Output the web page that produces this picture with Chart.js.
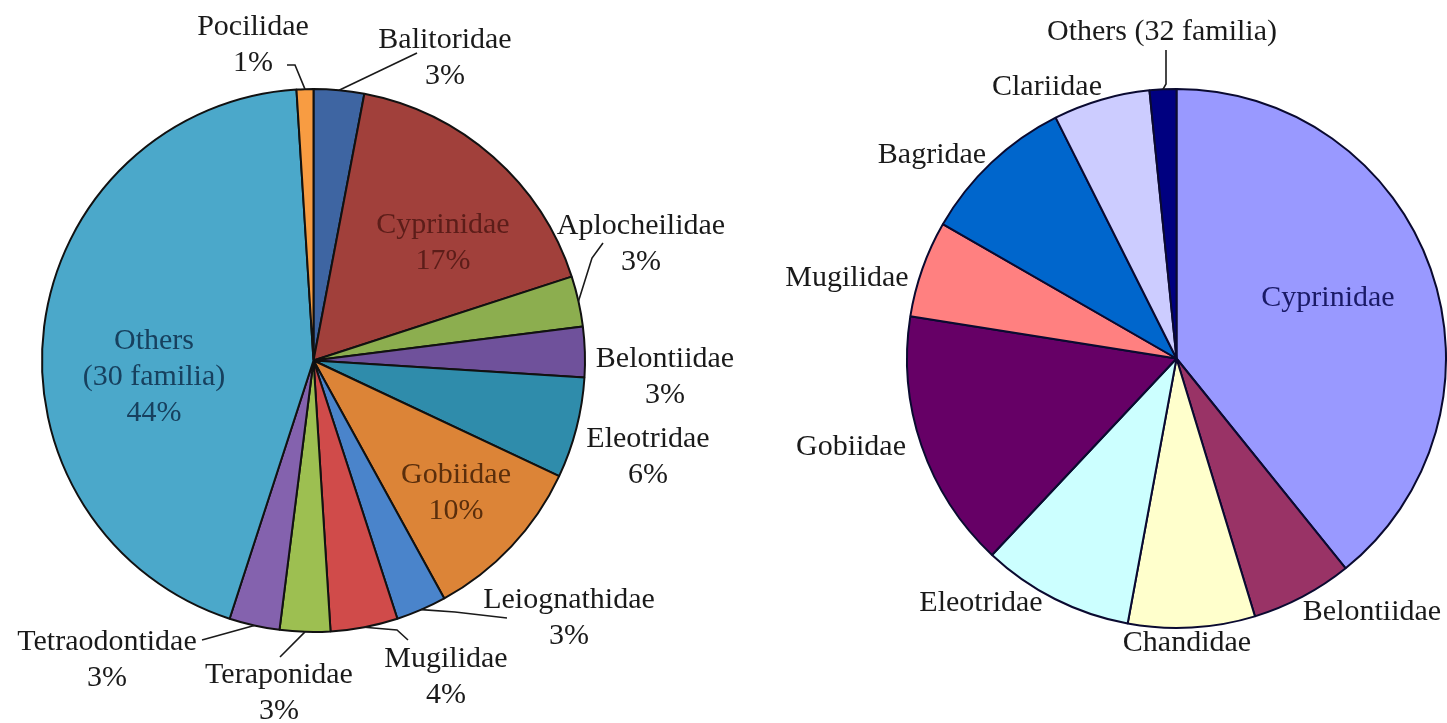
<!DOCTYPE html>
<html>
<head>
<meta charset="utf-8">
<title>Fish families</title>
<script src="https://cdn.jsdelivr.net/npm/chart.js@4"></script>
<style>
  html, body { margin: 0; padding: 0; background: #fff; }
  body { width: 1447px; height: 723px; position: relative; overflow: hidden; }
  canvas { position: absolute; top: 0; }
  #leftPie { left: 0; }
  #rightPie { left: 723px; }
</style>
</head>
<body>
<canvas id="leftPie" width="770" height="723"></canvas>
<canvas id="rightPie" width="724" height="723"></canvas>
<script>
// ---- Data ----
const leftFamilies = [
  "Balitoridae", "Cyprinidae", "Aplocheilidae", "Belontiidae", "Eleotridae", "Gobiidae",
  "Leiognathidae", "Mugilidae", "Teraponidae", "Tetraodontidae", "Others\n(30 familia)", "Pocilidae"
];
const leftPercent = [3, 17, 3, 3, 6, 10, 3, 4, 3, 3, 44, 1];

const rightFamilies = [
  "Cyprinidae", "Belontiidae", "Chandidae", "Eleotridae", "Gobiidae",
  "Mugilidae", "Bagridae", "Clariidae", "Others (32 familia)"
];
const rightShare = [39.2, 6.1, 7.6, 9.1, 15.5, 5.8, 9.3, 5.8, 1.6];

// ---- Styles ----
const leftColors = [
  "#3e65a2", "#a1403b", "#8cae4f", "#6f519b", "#2f8cab", "#dc8437",
  "#4a84cb", "#d04b4a", "#9dbf51", "#8462ae", "#4ba8ca", "#f89c42"
];
const rightColors = [
  "#9999ff", "#993366", "#ffffcc", "#ccffff", "#660066",
  "#ff8080", "#0066cc", "#ccccff", "#000080"
];

// label placement (page coords): centre x, first baseline y, inner text colour, leader knee points
const leftLabelPos = [
  { x: 445, y: 48, lead: [[417, 53]] },
  { x: 443, y: 233, color: "#5c1d19" },
  { x: 641, y: 234, lead: [[603, 243], [592, 258]] },
  { x: 665, y: 367 },
  { x: 648, y: 447 },
  { x: 456, y: 483, color: "#5a2e0c" },
  { x: 569, y: 608, lead: [[507, 618], [455, 612]] },
  { x: 446, y: 667, lead: [[408, 640], [397, 630]] },
  { x: 279, y: 683, lead: [[280, 657]] },
  { x: 107, y: 650, lead: [[202, 640]] },
  { x: 154, y: 349, color: "#17405e" },
  { x: 253, y: 35, lead: [[287, 65], [295, 65]] }
];
const rightLabelPos = [
  { x: 1328, y: 306, color: "#1a1a66" },
  { x: 1372, y: 620 },
  { x: 1187, y: 651 },
  { x: 981, y: 611 },
  { x: 851, y: 455 },
  { x: 847, y: 286 },
  { x: 932, y: 163 },
  { x: 1047, y: 95 },
  { x: 1162, y: 40, lead: [[1166, 50], [1166, 84]] }
];

const FONT = "30px 'Liberation Serif', 'Times New Roman', serif";
const LINE = 36;

// ---- Label plugin ----
const pieLabels = {
  id: "pieLabels",
  afterDraw(chart, args, opts) {
    const ctx = chart.ctx;
    const arcs = chart.getDatasetMeta(0).data;
    const off = opts.offsetX;
    ctx.save();
    ctx.font = FONT;
    ctx.textAlign = "center";
    ctx.textBaseline = "alphabetic";
    opts.positions.forEach((p, i) => {
      const lines = opts.text[i];
      ctx.fillStyle = p.color || "#1a1a1a";
      lines.forEach((t, k) => ctx.fillText(t, p.x - off, p.y + k * LINE));

      if (p.lead) {
        // leader ends on the slice's outer edge at its mid angle
        const a = arcs[i];
        const mid = (a.startAngle + a.endAngle) / 2;
        const ex = a.x + Math.cos(mid) * a.outerRadius;
        const ey = a.y + Math.sin(mid) * a.outerRadius;
        ctx.beginPath();
        ctx.strokeStyle = "#1a1a1a";
        ctx.lineWidth = 1.6;
        ctx.moveTo(p.lead[0][0] - off, p.lead[0][1]);
        for (let k = 1; k < p.lead.length; k++) ctx.lineTo(p.lead[k][0] - off, p.lead[k][1]);
        ctx.lineTo(ex, ey);
        ctx.stroke();
      }
    });
    ctx.restore();
  }
};

function makePie(id, labels, values, colors, border, padding, positions, text, offsetX) {
  return new Chart(document.getElementById(id), {
    type: "pie",
    data: {
      labels: labels,
      datasets: [{
        data: values,
        backgroundColor: colors,
        borderColor: border,
        borderWidth: 2
      }]
    },
    options: {
      responsive: false,
      animation: false,
      layout: { padding: padding },
      plugins: {
        legend: { display: false },
        tooltip: { enabled: false },
        pieLabels: { positions: positions, text: text, offsetX: offsetX }
      }
    },
    plugins: [pieLabels]
  });
}

// ---- Build ----
const leftText = leftFamilies.map((f, i) => f.split("\n").concat([leftPercent[i] + "%"]));
const rightText = rightFamilies.map(f => [f]);

makePie("leftPie", leftFamilies, leftPercent, leftColors, "#111",
  { left: 41, top: 88, right: 184, bottom: 90 }, leftLabelPos, leftText, 0);

makePie("rightPie", rightFamilies, rightShare, rightColors, "#0a0a30",
  { left: 183, top: 88, right: 0, bottom: 94 }, rightLabelPos, rightText, 723);
</script>
</body>
</html>
